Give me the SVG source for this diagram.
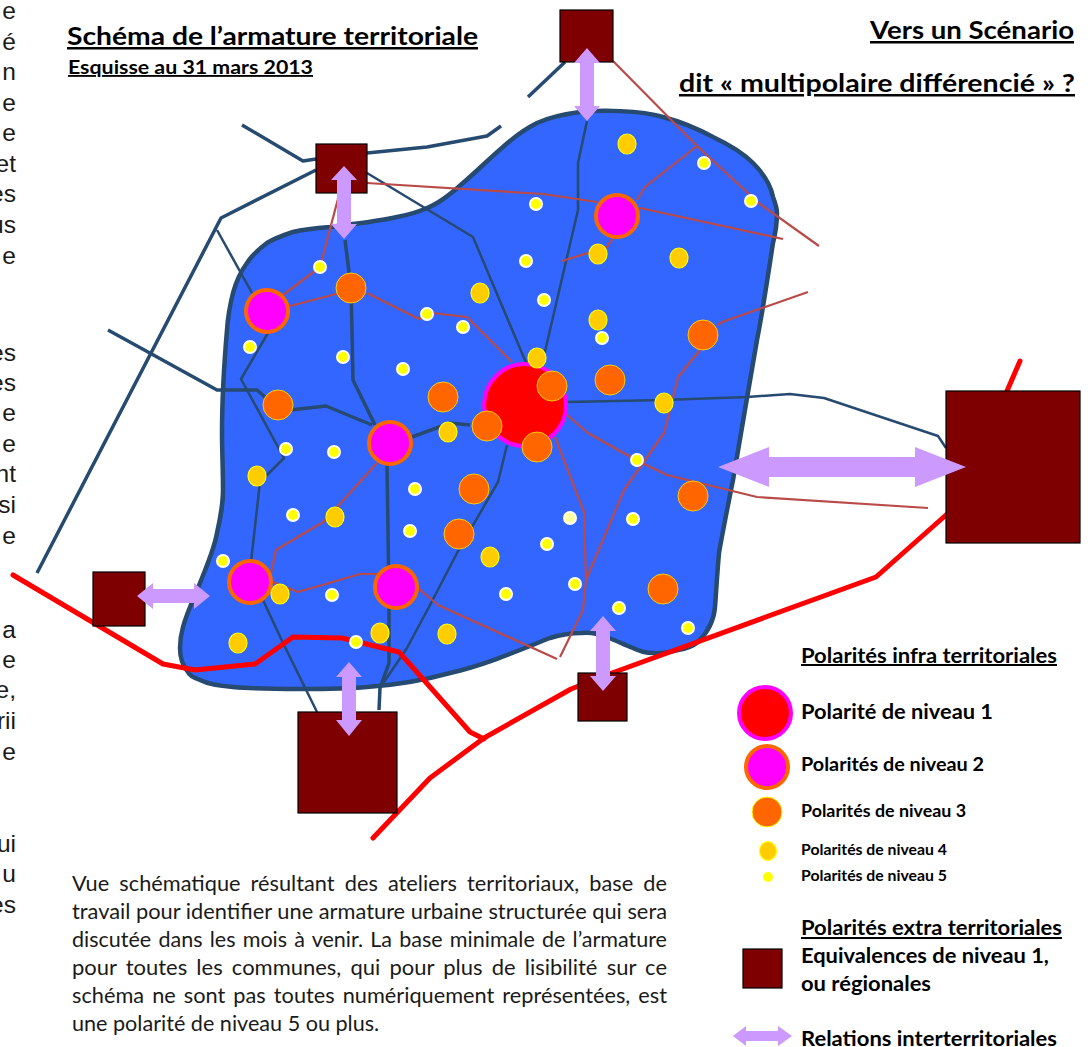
<svg xmlns="http://www.w3.org/2000/svg" width="1091" height="1047" viewBox="0 0 1091 1047">
<style>
text{font-family:"Lato","Carlito","Liberation Sans",sans-serif;fill:#000}
.b{font-weight:700}
.u{text-decoration:underline}
.frag{font-family:"Liberation Sans",Arial,sans-serif;font-size:24.5px;text-anchor:end;fill:#1a1a1a}
.p{font-size:21.6px;fill:#1a1a1a}
.blue{fill:none;stroke:#264a70;stroke-width:2.5;stroke-linejoin:round}
.thick{stroke-width:3.5}
.brown{fill:none;stroke:#b94a48;stroke-width:2.2;stroke-linejoin:round}
.red{fill:none;stroke:#f00;stroke-width:5;stroke-linejoin:round;stroke-linecap:round}
.sq{fill:#7f0000;stroke:#000;stroke-width:1.2}
.arrow{fill:#c9f;stroke:none}
.l1{fill:#f00;stroke:#f0f;stroke-width:4}
.l2{fill:#f0f;stroke:#f60;stroke-width:4}
.l3{fill:#f60;stroke:#fc0;stroke-width:1}
.l4{fill:#fc0;stroke:#ff0;stroke-width:1.2}
.l5{fill:#ff0;stroke:#fff;stroke-width:2}
</style>
<g id="cropped-text">
<text class="frag" x="16" y="19">e</text><text class="frag" x="16" y="50">é</text><text class="frag" x="16" y="80">n</text><text class="frag" x="16" y="111">e</text><text class="frag" x="16" y="141">e</text><text class="frag" x="16" y="172">et</text><text class="frag" x="16" y="202">es</text><text class="frag" x="16" y="233">us</text><text class="frag" x="16" y="264">e</text>
<text class="frag" x="16" y="361">es</text><text class="frag" x="16" y="391">es</text><text class="frag" x="16" y="421">e</text><text class="frag" x="16" y="452">e</text><text class="frag" x="16" y="482">nt</text><text class="frag" x="16" y="513">si</text><text class="frag" x="16" y="544">e</text>
<text class="frag" x="16" y="638">a</text><text class="frag" x="16" y="668">e</text><text class="frag" x="16" y="698">e,</text><text class="frag" x="16" y="729">rii</text><text class="frag" x="16" y="760">e</text>
<text class="frag" x="16" y="852">ui</text><text class="frag" x="16" y="882">u</text><text class="frag" x="16" y="913">es</text>
</g>
<g id="territory"><path d="M580 112C600 110 640 110 663 117C682 122 700 130 713 137C730 145 743 153 753 163C763 173 771 186 773 197C776 205 777 210 777 213C777 225 775 235 773 243C768 275 763 310 757 340L747 398L733 480C727 510 722 535 719 553C717 575 716 595 715 607C714 620 707 633 698 642C692 647 685 649 678 650C670 652 660 654 653 653C645 653 639 651 633 648C625 645 617 641 609 638C600 634 590 632 581 633C570 633 560 635 550 638C520 650 485 665 450 673C425 680 395 685 367 687C345 689 320 689 300 689C278 689 255 689 233 687C220 686 208 684 200 680C192 677 189 675 188 672C182 665 180 656 180 648C180 640 181 634 183 627C187 612 194 598 200 583C207 565 214 550 217 533C221 515 223 505 223 490C223 470 222 450 222 433C222 400 224 365 227 330C228 315 230 305 233 293C236 282 241 271 247 263C252 255 259 249 267 243C275 238 284 235 293 232C305 229 317 228 330 227C345 225 375 222 397 217C408 215 418 212 427 208C440 203 452 193 463 183C477 171 490 158 503 147C514 137 525 129 537 123C550 117 565 114 580 112Z" fill="#36f" stroke="#264a70" stroke-width="4.5"/></g>
<g id="connectors">
<path class="blue thick" d="M242 125L303 161L316 159"/>
<path class="blue thick" d="M316 170L221 218L37 573"/>
<path class="blue" d="M217 230L252 293"/>
<path class="blue thick" d="M367 153L427 147L487 136L501 126"/>
<path class="blue thick" d="M565 62L528 97"/>
<path class="blue" d="M367 173L473 237L527 365"/>
<path class="blue" d="M587 121L578 163L578 210L543 360"/>
<path class="blue thick" d="M345 240L351 288L352 330L353 380L375 425"/>
<path class="blue thick" d="M108 330L217 390L257 390L265 397"/>
<path class="blue thick" d="M290 410L326 406L372 425"/>
<path class="blue" d="M268 333L241 379L284 458L260 482L251 562"/>
<path class="blue thick" d="M387 465L388 530L389 607L389 663L380 688L379 710"/>
<path class="blue" d="M507 445L498 482L457 553L430 605L407 648L380 688"/>
<path class="blue" d="M263 600L283 643L317 712"/>
<path class="blue thick" d="M412 437L450 423L470 425"/>
<path class="blue" d="M567 402L664 400L747 397L790 394L824 398L938 436L946 448"/>
<path class="brown" d="M613 61L697 146L750 195L760 204L819 246"/>
<path class="brown" d="M367 183L543 194L597 202"/>
<path class="brown" d="M640 208L783 239"/>
<path class="brown" d="M637 200L645 187L697 146"/>
<path class="brown" d="M613 238L607 247L562 261"/>
<path class="brown" d="M718 325L722 322L808 292"/>
<path class="brown" d="M700 350L678 377L664 433L624 490L586 580"/>
<path class="brown" d="M555 437L584 512L586 580L583 610L560 657"/>
<path class="brown" d="M567 415L588 433L636 460L667 475L757 497L928 508"/>
<path class="brown" d="M339 195L320 267L283 295"/>
<path class="brown" d="M290 306L340 293"/>
<path class="brown" d="M367 293L419 319L433 313L467 317L512 362"/>
<path class="brown" d="M377 463L337 507L323 522L276 550L271 573"/>
<path class="brown" d="M273 582L298 592L360 574L377 574"/>
<path class="brown" d="M418 588L438 605L557 659"/>
<path class="red" d="M13 575L163 664L195 670L255 664L293 637L342 638L399 652L470 732L484 739"/>
<path class="red" d="M373 838L430 778L484 738L571 689L612 673L876 577L946 515"/>
<path class="red" d="M1020 361L1007 391"/>
</g>
<g id="pole-top"><rect class="sq" x="560" y="10" width="53" height="52"/></g>
<g id="pole-nw"><rect class="sq" x="316" y="144" width="51" height="49"/></g>
<g id="pole-east"><rect class="sq" x="946" y="391" width="134" height="152"/></g>
<g id="pole-west"><rect class="sq" x="93" y="572" width="52" height="54"/></g>
<g id="pole-south"><rect class="sq" x="298" y="712" width="99" height="101"/></g>
<g id="pole-south-east"><rect class="sq" x="578" y="673" width="49" height="48"/></g>
<g id="relations">
<path class="arrow" d="M587 48L600 63H594V106H600L587 121L574 106H580V63H574Z"/>
<path class="arrow" d="M344 166L357 180H351V224H357L344 239L331 224H337V180H331Z"/>
<path class="arrow" d="M137 596L153 583V589H194V583L210 596L194 609V603H153V609Z"/>
<path class="arrow" d="M349 662L362 677H356V720H362L349 736L336 720H342V677H336Z"/>
<path class="arrow" d="M603 616L616 631H610V676H616L603 691L590 676H596V631H590Z"/>
<path class="arrow" d="M718 467L769 447V457H915V447L966 467L915 487V477H769V487Z"/>
</g>
<g id="polarites-2">
<circle class="l2" cx="267" cy="311" r="21"/><circle class="l2" cx="617" cy="216" r="21"/><circle class="l2" cx="390" cy="443" r="21"/><circle class="l2" cx="250" cy="582" r="21"/><circle class="l2" cx="396" cy="587" r="21"/>
</g>
<g id="polarite-1"><circle class="l1" cx="525" cy="405" r="41"/></g>
<g id="polarites-3">
<circle class="l3" cx="351" cy="288" r="15"/><circle class="l3" cx="703" cy="335" r="15"/><circle class="l3" cx="610" cy="380" r="15"/><circle class="l3" cx="443" cy="397" r="15"/><circle class="l3" cx="278" cy="405" r="15"/><circle class="l3" cx="552" cy="386" r="15"/><circle class="l3" cx="487" cy="426" r="15"/><circle class="l3" cx="537" cy="447" r="15"/><circle class="l3" cx="474" cy="489" r="15"/><circle class="l3" cx="459" cy="534" r="15"/><circle class="l3" cx="693" cy="496" r="15"/><circle class="l3" cx="663" cy="589" r="15"/>
</g>
<g id="polarites-4">
<ellipse class="l4" cx="627" cy="144" rx="9" ry="10"/><ellipse class="l4" cx="598" cy="254" rx="9" ry="10"/><ellipse class="l4" cx="679" cy="258" rx="9" ry="10"/><ellipse class="l4" cx="480" cy="293" rx="9" ry="10"/><ellipse class="l4" cx="598" cy="320" rx="9" ry="10"/><ellipse class="l4" cx="537" cy="358" rx="9" ry="10"/><ellipse class="l4" cx="448" cy="432" rx="9" ry="10"/><ellipse class="l4" cx="664" cy="403" rx="9" ry="10"/><ellipse class="l4" cx="257" cy="476" rx="9" ry="10"/><ellipse class="l4" cx="335" cy="517" rx="9" ry="10"/><ellipse class="l4" cx="490" cy="557" rx="9" ry="10"/><ellipse class="l4" cx="280" cy="594" rx="9" ry="10"/><ellipse class="l4" cx="238" cy="643" rx="9" ry="10"/><ellipse class="l4" cx="380" cy="633" rx="9" ry="10"/><ellipse class="l4" cx="447" cy="634" rx="9" ry="10"/>
</g>
<g id="polarites-5">
<circle class="l5" cx="320" cy="267" r="6"/><circle class="l5" cx="704" cy="163" r="6"/><circle class="l5" cx="751" cy="201" r="6"/><circle class="l5" cx="536" cy="204" r="6"/><circle class="l5" cx="526" cy="261" r="6"/><circle class="l5" cx="544" cy="300" r="6"/><circle class="l5" cx="427" cy="314" r="6"/><circle class="l5" cx="463" cy="327" r="6"/><circle class="l5" cx="602" cy="338" r="6"/><circle class="l5" cx="250" cy="347" r="6"/><circle class="l5" cx="343" cy="357" r="6"/><circle class="l5" cx="403" cy="369" r="6"/><circle class="l5" cx="286" cy="449" r="6"/><circle class="l5" cx="334" cy="452" r="6"/><circle class="l5" cx="415" cy="489" r="6"/><circle class="l5" cx="293" cy="515" r="6"/><circle class="l5" cx="410" cy="531" r="6"/><circle class="l5" cx="223" cy="561" r="6"/><circle class="l5" cx="332" cy="595" r="6"/><circle class="l5" cx="547" cy="544" r="6"/><circle class="l5" cx="506" cy="594" r="6"/><circle class="l5" cx="575" cy="584" r="6"/><circle class="l5" cx="356" cy="642" r="6"/><circle class="l5" cx="570" cy="518" r="6" style="fill:#ffffa0"/><circle class="l5" cx="637" cy="460" r="6"/><circle class="l5" cx="633" cy="519" r="6"/><circle class="l5" cx="619" cy="608" r="6"/><circle class="l5" cx="688" cy="628" r="6"/>
</g>
<g id="titles">
<text class="b u" x="67" y="45" font-size="25" textLength="411" lengthAdjust="spacingAndGlyphs">Schéma de l’armature territoriale</text>
<text class="b u" x="68" y="74" font-size="18.5" textLength="245" lengthAdjust="spacingAndGlyphs">Esquisse au 31 mars 2013</text>
<text class="b u" x="870" y="39" font-size="25" textLength="204" lengthAdjust="spacingAndGlyphs">Vers un Scénario</text>
<text class="b u" x="679" y="92" font-size="25" textLength="396" lengthAdjust="spacingAndGlyphs">dit « multipolaire différencié » ?</text>
</g>
<g id="legend-1">
<text class="b u" x="801" y="663" font-size="20" textLength="256" lengthAdjust="spacingAndGlyphs">Polarités infra territoriales</text>
<circle class="l1" cx="765" cy="713" r="26"/><text class="b" x="801" y="719" font-size="20.5" textLength="192" lengthAdjust="spacingAndGlyphs">Polarité de niveau 1</text>
<circle class="l2" cx="767" cy="767" r="21"/><text class="b" x="801" y="771" font-size="18.5" textLength="183" lengthAdjust="spacingAndGlyphs">Polarités de niveau 2</text>
<circle class="l3" cx="767" cy="812" r="15" style="stroke:#ff0"/><text class="b" x="801" y="817" font-size="16.5" textLength="165" lengthAdjust="spacingAndGlyphs">Polarités de niveau 3</text>
<ellipse class="l4" cx="768" cy="851" rx="8.5" ry="9.5"/><text class="b" x="801" y="855" font-size="14.5" textLength="146" lengthAdjust="spacingAndGlyphs">Polarités de niveau 4</text>
<circle cx="768" cy="877" r="5" fill="#ff0"/><text class="b" x="801" y="881" font-size="14.5" textLength="146" lengthAdjust="spacingAndGlyphs">Polarités de niveau 5</text>
</g>
<g id="legend-2">
<text class="b u" x="801" y="935" font-size="20.5" textLength="261" lengthAdjust="spacingAndGlyphs">Polarités extra territoriales</text>
<rect class="sq" x="743" y="949" width="39" height="39"/>
<text class="b" x="801" y="963" font-size="20.5" textLength="248" lengthAdjust="spacingAndGlyphs">Equivalences de niveau 1,</text>
<text class="b" x="801" y="991" font-size="20.5" textLength="130" lengthAdjust="spacingAndGlyphs">ou régionales</text>
<path class="arrow" d="M733 1036L746 1026V1031H778V1026L792 1036L778 1046V1041H746V1046Z"/>
<text class="b" x="801" y="1046" font-size="20.5" textLength="256" lengthAdjust="spacingAndGlyphs">Relations interterritoriales</text>
</g>
<g id="caption">
<text class="p" x="72" y="891" word-spacing="4.5" textLength="595" lengthAdjust="spacingAndGlyphs">Vue schématique résultant des ateliers territoriaux, base de</text>
<text class="p" x="72" y="919" textLength="595" lengthAdjust="spacingAndGlyphs">travail pour identifier une armature urbaine structurée qui sera</text>
<text class="p" x="72" y="947" word-spacing="1.7" textLength="595" lengthAdjust="spacingAndGlyphs">discutée dans les mois à venir. La base minimale de l’armature</text>
<text class="p" x="72" y="975" word-spacing="3.5" textLength="595" lengthAdjust="spacingAndGlyphs">pour toutes les communes, qui pour plus de lisibilité sur ce</text>
<text class="p" x="72" y="1003" word-spacing="2.5" textLength="595" lengthAdjust="spacingAndGlyphs">schéma ne sont pas toutes numériquement représentées, est</text>
<text class="p" x="72" y="1031">une polarité de niveau 5 ou plus.</text>
</g>
</svg>
